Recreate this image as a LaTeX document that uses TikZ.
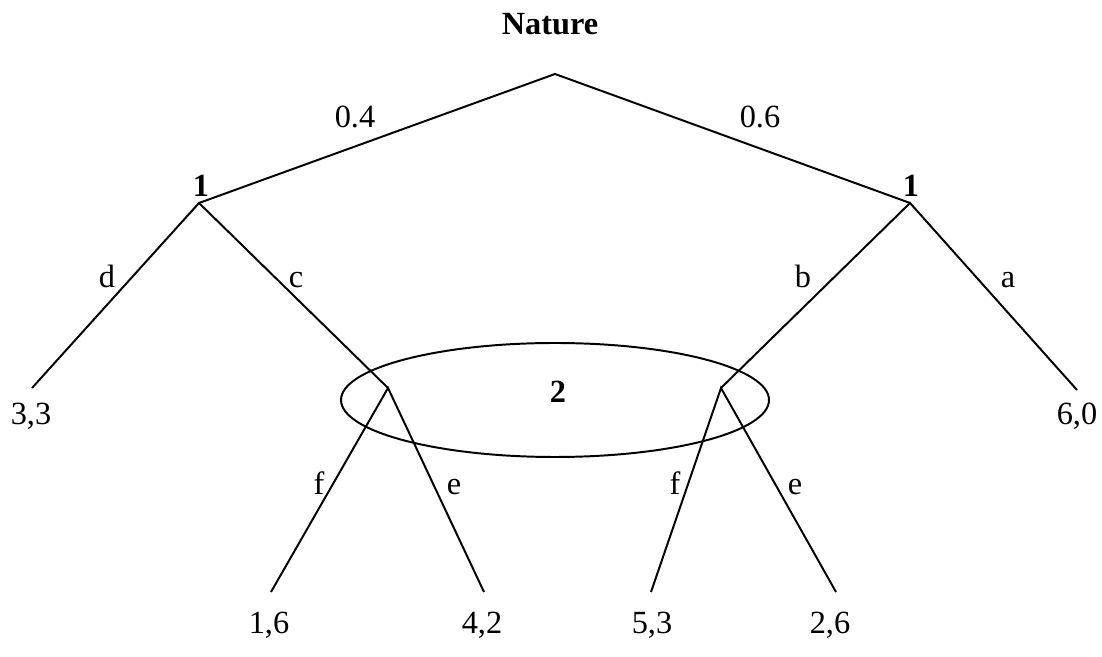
\documentclass[tikz,border=0pt]{standalone}
\usepackage{fontspec}
\setmainfont{Liberation Serif}
\usepackage{tikz}

\begin{document}
\begin{tikzpicture}[
  edge/.style={draw=black, line width=1.4pt},
  lbl/.style={anchor=base, inner sep=0pt, font=\fontsize{23}{27}\selectfont},
  plr/.style={lbl, font=\fontsize{23}{27}\selectfont\bfseries},
  infoset/.style={draw=black, line width=1.4pt}
]
\useasboundingbox (0,0) rectangle (27.55,16.4);
% decision points
\coordinate (root) at (13.875,14.55);
\coordinate (p1l) at (4.975,11.325);
\coordinate (p1r) at (22.75,11.325);
\coordinate (p2l) at (9.7,6.7);
\coordinate (p2r) at (18.025,6.7);
% terminal points
\coordinate (tdd) at (0.8,6.7);
\coordinate (taa) at (26.925,6.65);
\coordinate (tlf) at (6.775,1.6);
\coordinate (tle) at (12.1,1.6);
\coordinate (trf) at (16.275,1.6);
\coordinate (tre) at (20.9,1.6);

% information set of player 2
\draw[infoset] (13.875,6.4) ellipse (5.35 and 1.425);

\draw[edge] (p1l) -- (root) -- (p1r);
\draw[edge] (tdd) -- (p1l) -- (p2l);
\draw[edge] (p2r) -- (p1r) -- (taa);
\draw[edge] (tlf) -- (p2l) -- (tle);
\draw[edge] (trf) -- (p2r) -- (tre);

% players
\node[plr] (nature) at (13.75,15.525) {Nature};
\node[plr] (onel) at (5.025,11.475) {1};
\node[plr] (oner) at (22.775,11.475) {1};
\node[plr] (two) at (13.95,6.325) {2};

% moves
\node[lbl] (prl) at (8.875,13.2) {0.4};
\node[lbl] (prr) at (19.0,13.2) {0.6};
\node[lbl] (mvd) at (2.675,9.2) {d};
\node[lbl] (mvc) at (7.4,9.2) {c};
\node[lbl] (mvb) at (20.075,9.2) {b};
\node[lbl] (mva) at (25.2,9.2) {a};
\node[lbl] (mvfl) at (7.975,4.025) {f};
\node[lbl] (mvel) at (11.35,4.025) {e};
\node[lbl] (mvfr) at (16.875,4.025) {f};
\node[lbl] (mver) at (19.875,4.025) {e};

% payoffs
\node[lbl] (pay33) at (0.775,5.775) {3,3};
\node[lbl] (pay60) at (26.925,5.775) {6,0};
\node[lbl] (pay16) at (6.725,0.575) {1,6};
\node[lbl] (pay42) at (12.05,0.575) {4,2};
\node[lbl] (pay53) at (16.3,0.575) {5,3};
\node[lbl] (pay26) at (20.75,0.575) {2,6};
\end{tikzpicture}
\end{document}
